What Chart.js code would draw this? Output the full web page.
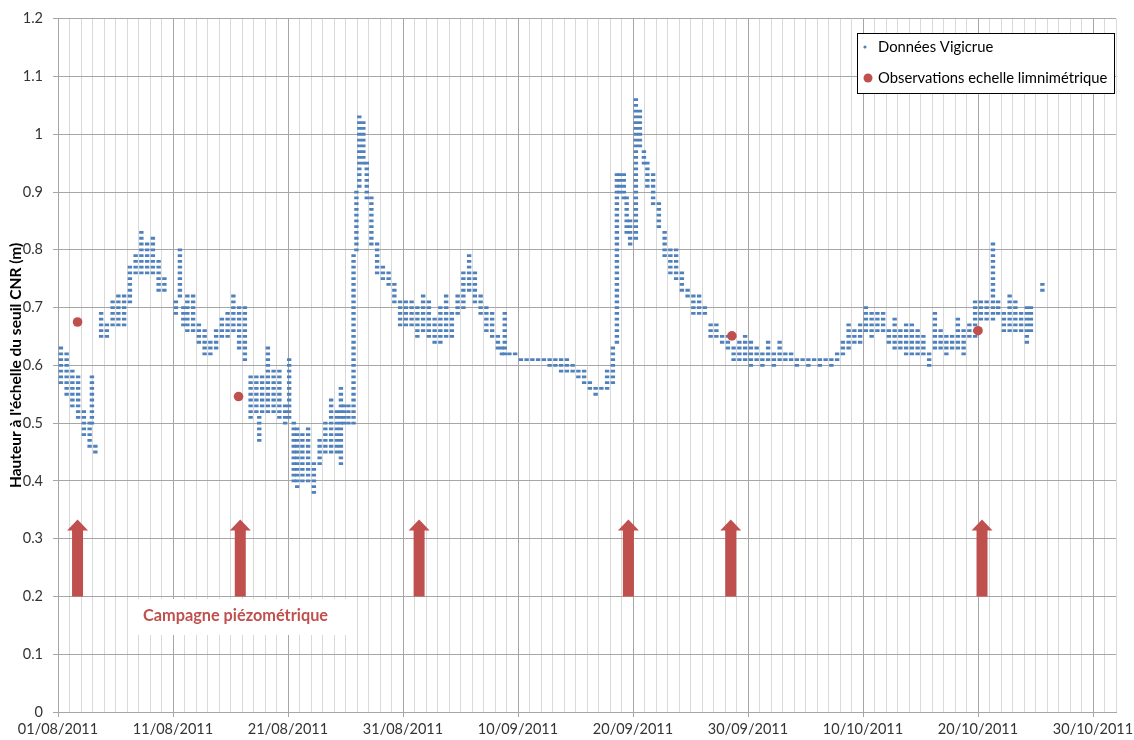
<!DOCTYPE html>
<html>

<head>
    <title>Vigicrue - seuil CNR</title>
    <script src="https://cdn.jsdelivr.net/npm/chart.js"></script>
    <style>
        body { margin: 0; background: #fff; }
    </style>
</head>

<body>
    <canvas id="chart" width="1134" height="740"></canvas>
    <script>
        // tick labels, one every 10 days from 01/08/2011 (x = days since 01/08/2011 0h)
        const dateLabels = ['01/08/2011', '11/08/2011', '21/08/2011', '31/08/2011', '10/09/2011',
            '20/09/2011', '30/09/2011', '10/10/2011', '20/10/2011', '30/10/2011'];

        // Données Vigicrue : for each time slot, lowest and highest level read (m), gauge step 1 cm
        const instants = [0.25, 0.75, 1.25, 1.75, 2.25, 2.75, 2.95, 3.25, 3.75,
            4.25, 4.75, 5.25, 5.75, 6.25, 6.75, 7.25, 7.75, 8.25, 8.75, 9.25,
            10.25, 10.6, 10.9, 11.25, 11.75, 12.25, 12.75, 13.25, 13.75, 14.25, 14.75,
            15.25, 15.75, 16.25, 16.75, 17.25, 17.5, 17.75, 18.25, 18.75, 19.25, 19.75,
            20.1, 20.5, 20.8, 21.25, 21.75, 22.25, 22.75, 23.25, 23.75,
            24.25, 24.6, 24.85, 25.25, 25.7, 25.95, 26.2, 26.55, 26.85,
            27.25, 27.75, 28.25, 28.75, 29.25, 29.75, 30.25, 30.75,
            31.25, 31.75, 32.25, 32.75, 33.25, 33.75, 34.25, 34.75,
            35.25, 35.75, 36.25, 36.75, 37.25, 37.75, 38.25, 38.6, 38.85, 39.25, 39.75,
            40.25, 40.75, 41.25, 41.75, 42.25, 42.75, 43.25, 43.75, 44.25, 44.75,
            45.25, 45.75, 46.25, 46.75, 47.25, 47.75, 48.25, 48.6, 48.85,
            49.2, 49.45, 49.75, 50.25, 50.6, 50.95, 51.25, 51.75, 52.25, 52.75,
            53.25, 53.75, 54.25, 54.75, 55.25, 55.75, 56.25, 56.75, 57.25, 57.75,
            58.25, 58.75, 59.25, 59.75, 60.25, 60.75, 61.25, 61.75, 62.25, 62.75,
            63.25, 63.75, 64.25, 64.75, 65.25, 65.75, 66.25, 66.75, 67.25, 67.75,
            68.25, 68.75, 69.25, 69.75, 70.25, 70.75, 71.25, 71.75, 72.25, 72.75,
            73.25, 73.75, 74.25, 74.75, 75.25, 75.75, 76.25, 76.75, 77.25, 77.75,
            78.25, 78.75, 79.25, 79.75, 80.25, 80.75, 81.3, 81.75, 82.25, 82.75,
            83.25, 83.75, 84.25, 84.6, 85.6];
        const niveauBas = [0.57, 0.55, 0.53, 0.51, 0.48, 0.46, 0.50, 0.45, 0.65,
            0.65, 0.67, 0.67, 0.67, 0.71, 0.76, 0.76, 0.76, 0.76, 0.73, 0.73,
            0.69, 0.72, 0.67, 0.66, 0.66, 0.64, 0.62, 0.62, 0.63, 0.65, 0.65,
            0.66, 0.63, 0.61, 0.51, 0.52, 0.47, 0.52, 0.52, 0.52, 0.51, 0.50,
            0.51, 0.40, 0.39, 0.40, 0.40, 0.38, 0.43, 0.45, 0.45,
            0.45, 0.43, 0.50, 0.50, 0.50, 0.80, 0.91, 0.95, 0.89,
            0.81, 0.76, 0.75, 0.74, 0.71, 0.67, 0.67, 0.67,
            0.65, 0.66, 0.65, 0.64, 0.64, 0.65, 0.65, 0.69,
            0.70, 0.73, 0.71, 0.69, 0.66, 0.65, 0.63, 0.62, 0.62, 0.62, 0.62,
            0.61, 0.61, 0.61, 0.61, 0.61, 0.60, 0.60, 0.59, 0.59, 0.59,
            0.58, 0.57, 0.56, 0.55, 0.56, 0.56, 0.57, 0.64, 0.90,
            0.89, 0.83, 0.81, 0.82, 0.98, 0.95, 0.91, 0.88, 0.84, 0.79,
            0.76, 0.75, 0.73, 0.72, 0.69, 0.69, 0.69, 0.65, 0.65, 0.64,
            0.63, 0.61, 0.61, 0.61, 0.60, 0.61, 0.60, 0.61, 0.60, 0.61,
            0.61, 0.61, 0.60, 0.61, 0.60, 0.61, 0.60, 0.61, 0.60, 0.61,
            0.62, 0.63, 0.64, 0.64, 0.66, 0.65, 0.66, 0.66, 0.64, 0.63,
            0.63, 0.62, 0.62, 0.62, 0.62, 0.60, 0.63, 0.63, 0.62, 0.63,
            0.63, 0.62, 0.65, 0.65, 0.68, 0.68, 0.68, 0.69, 0.66, 0.66,
            0.66, 0.66, 0.64, 0.66, 0.73];
        const niveauHaut = [0.63, 0.62, 0.59, 0.58, 0.52, 0.50, 0.58, 0.46, 0.69,
            0.67, 0.71, 0.72, 0.72, 0.77, 0.79, 0.83, 0.81, 0.82, 0.78, 0.75,
            0.71, 0.80, 0.70, 0.72, 0.72, 0.67, 0.66, 0.64, 0.66, 0.68, 0.69,
            0.72, 0.70, 0.70, 0.58, 0.58, 0.51, 0.58, 0.63, 0.59, 0.59, 0.53,
            0.61, 0.50, 0.49, 0.48, 0.49, 0.43, 0.47, 0.50, 0.54,
            0.52, 0.56, 0.53, 0.53, 0.79, 0.90, 1.03, 1.02, 0.95,
            0.89, 0.81, 0.77, 0.76, 0.74, 0.71, 0.71, 0.71,
            0.70, 0.72, 0.71, 0.68, 0.70, 0.72, 0.69, 0.72,
            0.76, 0.79, 0.76, 0.72, 0.70, 0.69, 0.65, 0.63, 0.69, 0.62, 0.62,
            0.61, 0.61, 0.61, 0.61, 0.61, 0.61, 0.61, 0.61, 0.61, 0.60,
            0.59, 0.59, 0.57, 0.56, 0.56, 0.59, 0.63, 0.93, 0.93,
            0.93, 0.89, 0.85, 1.06, 1.04, 0.97, 0.95, 0.93, 0.88, 0.83,
            0.80, 0.80, 0.76, 0.73, 0.72, 0.72, 0.70, 0.67, 0.67, 0.65,
            0.65, 0.63, 0.64, 0.65, 0.64, 0.63, 0.62, 0.64, 0.62, 0.64,
            0.62, 0.62, 0.61, 0.61, 0.61, 0.61, 0.61, 0.61, 0.61, 0.62,
            0.64, 0.67, 0.66, 0.67, 0.70, 0.69, 0.69, 0.69, 0.66, 0.68,
            0.66, 0.67, 0.67, 0.66, 0.65, 0.62, 0.69, 0.66, 0.65, 0.65,
            0.68, 0.66, 0.67, 0.71, 0.71, 0.71, 0.81, 0.71, 0.69, 0.72,
            0.71, 0.69, 0.70, 0.70, 0.74];

        // Observations echelle limnimétrique
        const obsJours = [1.7, 15.7, 58.6, 80.0];
        const obsHauteurs = [0.675, 0.546, 0.651, 0.66];

        // dates des campagnes piézométriques (arrows)
        const campagnes = [1.7, 15.85, 31.4, 49.6, 58.5, 80.35];

        const bleu = '#4f81bd';
        const rouge = '#c0504d';
        const police = 'Lato, "Open Sans", sans-serif';

        const vigicrue = [];
        instants.forEach((t, i) => {
            const bas = Math.round(niveauBas[i] * 100);
            const haut = Math.round(niveauHaut[i] * 100);
            for (let c = bas; c <= haut; c++) {
                vigicrue.push({ x: t, y: c / 100 });
            }
        });
        const observations = obsJours.map((j, i) => ({ x: j, y: obsHauteurs[i] }));

        // arrows, "Campagne piézométrique" box and the framed legend
        const decor = {
            id: 'decor',
            afterDraw(chart) {
                const ctx = chart.ctx;
                const xs = chart.scales.x;
                const ys = chart.scales.y;
                ctx.save();

                ctx.fillStyle = rouge;
                campagnes.forEach(j => {
                    const x = xs.getPixelForValue(j);
                    const yb = ys.getPixelForValue(0.2);
                    const yt = ys.getPixelForValue(0.333);
                    ctx.beginPath();
                    ctx.moveTo(x - 5.5, yb);
                    ctx.lineTo(x - 5.5, yt + 11);
                    ctx.lineTo(x - 10.5, yt + 11);
                    ctx.lineTo(x, yt);
                    ctx.lineTo(x + 10.5, yt + 11);
                    ctx.lineTo(x + 5.5, yt + 11);
                    ctx.lineTo(x + 5.5, yb);
                    ctx.closePath();
                    ctx.fill();
                });

                ctx.fillStyle = '#fff';
                ctx.fillRect(128, 599, 222, 36);
                ctx.fillStyle = rouge;
                ctx.font = 'bold 16.3px ' + police;
                ctx.textBaseline = 'middle';
                ctx.textAlign = 'left';
                ctx.fillText('Campagne piézométrique', 143, 616);

                // legend
                ctx.fillStyle = '#fff';
                ctx.fillRect(857, 33, 257, 60);
                ctx.strokeStyle = '#000';
                ctx.lineWidth = 1;
                ctx.strokeRect(857.5, 33.5, 257, 60);
                ctx.font = '14.8px ' + police;
                ctx.fillStyle = '#000';
                ctx.fillText(chart.data.datasets[1].label, 878, 47);
                ctx.fillText(chart.data.datasets[0].label, 878, 78);
                ctx.fillStyle = bleu;
                ctx.beginPath();
                ctx.arc(865, 47, 1.6, 0, Math.PI * 2);
                ctx.fill();
                ctx.fillStyle = rouge;
                ctx.beginPath();
                ctx.arc(868, 78, 4.5, 0, Math.PI * 2);
                ctx.fill();
                ctx.restore();
            }
        };

        new Chart(document.getElementById('chart'), {
            type: 'scatter',
            data: {
                datasets: [{
                    label: 'Observations echelle limnimétrique',
                    data: observations,
                    backgroundColor: rouge,
                    borderWidth: 0,
                    pointRadius: 4.8,
                    order: 0
                }, {
                    label: 'Données Vigicrue',
                    data: vigicrue,
                    pointStyle: 'line',
                    pointRadius: 2.2,
                    borderColor: bleu,
                    pointBorderWidth: 2.8,
                    order: 1
                }]
            },
            options: {
                responsive: false,
                animation: false,
                layout: { padding: { top: 17, right: 18, left: 0, bottom: 0 } },
                plugins: {
                    legend: { display: false },
                    tooltip: { enabled: false }
                },
                scales: {
                    x: {
                        type: 'linear',
                        min: 0,
                        max: 92,
                        afterFit: s => { s.height = 28; },
                        border: { color: '#a6a6a6' },
                        grid: {
                            color: c => (c.tick.value % 10 === 0 ? '#a6a6a6' : '#d9d9d9'),
                            tickColor: c => (c.tick.value % 10 === 0 ? '#a6a6a6' : 'rgba(0,0,0,0)'),
                            tickLength: 5
                        },
                        ticks: {
                            stepSize: 1,
                            autoSkip: false,
                            maxRotation: 0,
                            padding: 4,
                            color: '#333',
                            font: { family: police, size: 14.5 },
                            callback: v => (v % 10 === 0 && dateLabels[v / 10]) ? dateLabels[v / 10] : ''
                        }
                    },
                    y: {
                        min: 0,
                        max: 1.2,
                        afterFit: s => { s.width = 58; },
                        border: { color: '#a6a6a6' },
                        grid: { color: '#a6a6a6', tickLength: 5 },
                        ticks: {
                            stepSize: 0.1,
                            padding: 10,
                            color: '#333',
                            font: { family: police, size: 14.5 },
                            callback: v => String(Math.round(v * 10) / 10)
                        },
                        title: {
                            display: true,
                            text: "Hauteur à l'échelle du seuil CNR (m)",
                            color: '#000',
                            font: { family: police, size: 15.5, weight: 'bold' },
                            padding: { top: 7, bottom: 0 }
                        }
                    }
                }
            },
            plugins: [decor]
        });
    </script>
</body>

</html>
